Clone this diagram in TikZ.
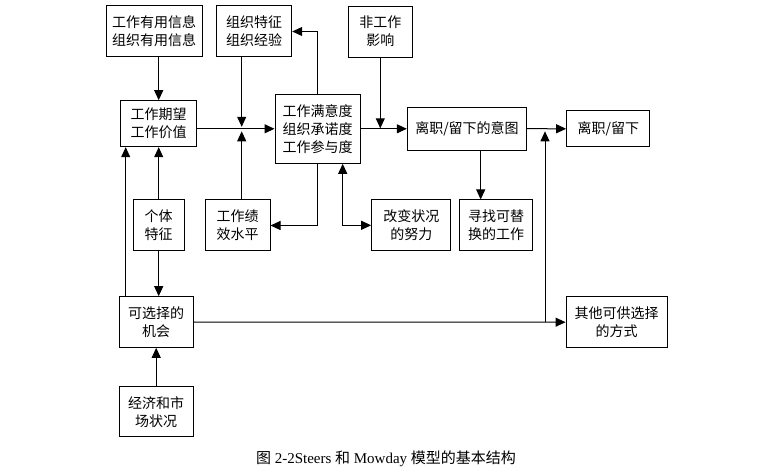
\documentclass[tikz,border=0pt]{standalone}
\usepackage{fontspec}
\setmainfont{Liberation Serif}
\newfontfamily\cjk{Noto Sans CJK SC}
\usetikzlibrary{arrows.meta}
\tikzset{
  box/.style={draw, line width=1pt, inner sep=0pt, align=center,
    font=\cjk\fontsize{14}{18}\selectfont},
  arr/.style={line width=1pt, -{Triangle[length=10pt,width=9pt]}},
  arrb/.style={line width=1pt, {Triangle[length=10pt,width=9pt]}-{Triangle[length=10pt,width=9pt]}},
  ln/.style={line width=1pt}
}
\begin{document}
\begin{tikzpicture}[x=1pt,y=-1pt]
\useasboundingbox (0,0) rectangle (761,473);
% boxes
\node[box, minimum width=96pt, minimum height=51pt] (A) at (154,31.5) {工作有用信息\\组织有用信息};
\node[box, minimum width=75pt, minimum height=51pt] (B) at (254.2,31.5) {组织特征\\组织经验};
\node[box, minimum width=64pt, minimum height=51pt] (N) at (380.3,31.6) {非工作\\影响};
\node[box, minimum width=76pt, minimum height=46pt] (E) at (158.7,123.7) {工作期望\\工作价值};
\node[box, minimum width=85pt, minimum height=69pt] (S) at (317.5,128.8) {工作满意度\\组织承诺度\\工作参与度};
\node[box, minimum width=119.4pt, minimum height=42.7pt] (I) at (467,128.7) {离职/留下的意图};
\node[box, minimum width=83.3pt, minimum height=35.7pt] (L) at (608.3,128.8) {离职/留下};
\node[box, minimum width=50.7pt, minimum height=51pt] (P) at (158.7,225.5) {个体\\特征};
\node[box, minimum width=65pt, minimum height=51pt] (W) at (237.5,225.5) {工作绩\\效水平};
\node[box, minimum width=79.3pt, minimum height=50.7pt] (C) at (411.3,225.3) {改变状况\\的努力};
\node[box, minimum width=73.4pt, minimum height=50.7pt] (F) at (496,225.3) {寻找可替\\换的工作};
\node[box, minimum width=74.3pt, minimum height=50.6pt] (O) at (156.2,322) {可选择的\\机会};
\node[box, minimum width=74.3pt, minimum height=50pt] (M) at (156.2,411.7) {经济和市\\场状况};
\node[box, minimum width=101.3pt, minimum height=51pt] (T) at (616.7,322.2) {其他可供选择\\的方式};
% junction coordinates
\coordinate (j1) at (241.7,128.3);
\coordinate (j2) at (545,128.3);
\coordinate (j3) at (545,322);
% connectors
\draw[arr] (A.south -| E.north) -- (E.north);
\draw[arr] (E.east |- S.west) -- (S.west);
\draw[arr, shorten >=1.5pt] (B.south -| j1) -- (j1);
\draw[arr, shorten >=3pt] (W.north -| j1) -- (j1);
\draw[arr] (S.north) |- (B.east);
\draw[arr] (S.south) |- (W.east);
\draw[arrb] ([xshift=25.2pt]S.south) |- (C.west);
\draw[arr] (S.east) -- (S.east -| I.west);
\draw[arr, shorten >=0.5pt] (N.south) -- (N.south |- S.east);
\draw[arr] (I.east) -- (L.west);
\draw[arr] ([xshift=13.7pt]I.south) -- ([xshift=13.7pt]I.south |- F.north);
\draw[arr] (O.east) -- (T.west);
\draw[arr, shorten >=3pt] (j3) -- (j2);
\draw[arr] ([xshift=-30.5pt]O.north) -- ([xshift=-30.5pt]O.north |- E.south);
\draw[arr] (P.north) -- (P.north |- E.south);
\draw[arr] (P.south) -- (P.south |- O.north);
\draw[arr] (M.north) -- (M.north |- O.south);
% caption
\node[inner sep=0pt, font=\fontsize{15}{17}\selectfont] (cap) at (386,459)
  {{\cjk 图} 2-2Steers {\cjk 和} Mowday {\cjk 模型的基本结构}};
\end{tikzpicture}
\end{document}
